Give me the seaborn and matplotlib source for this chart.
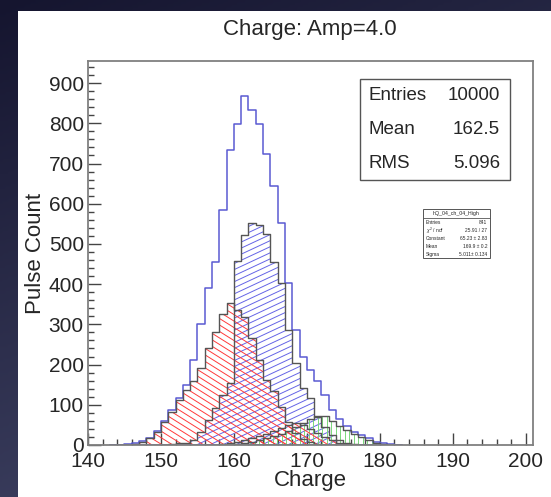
import numpy as np
import pandas as pd
import matplotlib
matplotlib.use("Agg")
import matplotlib.pyplot as plt
from matplotlib.collections import LineCollection
from matplotlib.patches import Rectangle
from matplotlib.transforms import Affine2D
import seaborn as sns

# Histogram contents, one bin per unit of charge; *_start is the lower edge of the first bin
total_start = 143
total_counts = [1, 1, 3, 5, 9, 18, 34, 60, 86, 116, 150, 212, 300, 390, 455, 585, 733, 798,
                867, 832, 798, 723, 645, 552, 402, 286, 218, 187, 158, 124, 87, 64, 47, 33,
                25, 17, 8, 4, 2, 1]

red_start = 144
red_counts = [1, 1, 3, 8, 17, 33, 58, 83, 112, 137, 160, 192, 240, 282, 325, 352, 335, 319,
              265, 211, 162, 135, 95, 58, 29, 15, 7, 3, 1]

blue_start = 150
blue_counts = [1, 2, 4, 6, 12, 33, 62, 92, 124, 154, 458, 522, 552, 547, 525, 456,
               402, 286, 203, 141, 116, 70, 45, 25, 12, 6, 3, 1]

green_start = 160
green_counts = [3, 5, 8, 12, 17, 22, 28, 36, 45, 55, 65, 71, 72, 60, 48, 37, 27, 19, 12, 6, 3, 1]

fit_start = 158
fit_counts = [2, 4, 7, 12, 17, 22, 28, 35, 42, 50, 54, 50, 40, 30, 20, 12, 6, 3, 1]

x_ticks = [140, 150, 160, 170, 180, 190, 200]
y_ticks = [0, 100, 200, 300, 400, 500, 600, 700, 800, 900]

stats_names = ["Entries", "Mean", "RMS"]
stats_values = ["10000", "162.5", "5.096"]

fit_title = "hQ_04_ch_04_High"
fit_names = ["Entries", r"$\chi^2$ / ndf", "Constant", "Mean", "Sigma"]
fit_values = ["841", "25.91 / 27", "65.23 \u00b1 2.83", "169.9 \u00b1 0.2", "5.011\u00b1 0.134"]

sns.set_style("white")
plt.rcParams['font.family'] = ['Liberation Sans', 'DejaVu Sans']
plt.rcParams['mathtext.fontset'] = 'custom'
plt.rcParams['mathtext.rm'] = 'Liberation Sans'
plt.rcParams['mathtext.it'] = 'Liberation Sans:italic'

fig = plt.figure(figsize=(5.51, 4.97), dpi=100)

# slide background: dark gradient with white panel
bg = fig.add_axes([0, 0, 1, 1], zorder=-10)
gy, gx = np.mgrid[0:1:200j, 0:1:200j]
grad = 0.35 * gy + 0.15 * gx
bg.imshow(grad, cmap=matplotlib.colors.LinearSegmentedColormap.from_list(
    "slide", ["#15152f", "#464a6c"]), aspect='auto', extent=[0, 1, 0, 1],
    vmin=0, vmax=0.5, origin='upper')
bg.add_patch(Rectangle((18 / 551, 0), 1, 1 - 11 / 497, transform=bg.transAxes,
                       facecolor='white', edgecolor='none'))
bg.set_axis_off()

ax_left, ax_bottom = 88 / 551, 52 / 497
ax_w, ax_h = 445 / 551, 384 / 497
ax = fig.add_axes([ax_left, ax_bottom, ax_w, ax_h])
ax.set_facecolor('white')
W, H = ax_w * 551, ax_h * 497


def draw_hist(start, counts, edge, lw):
    edges = [float(e) for e in range(start, start + len(counts) + 1)]
    df = pd.DataFrame({'charge': [e + 0.5 for e in edges[:-1]],
                       'count': [float(c) for c in counts]})
    n_before = len(ax.collections)
    sns.histplot(data=df, x='charge', weights='count', bins=edges, element='step',
                 fill=True, color=edge, facecolor='none', edgecolor=edge,
                 linewidth=lw, ax=ax, zorder=3)
    return ax.collections[n_before]


def add_hatch(coll, color, angle, spacing):
    a = np.deg2rad(angle)
    d = np.array([np.cos(a), np.sin(a)])
    n = np.array([-np.sin(a), np.cos(a)])
    L = np.hypot(W, H)
    c = np.array([W / 2, H / 2])
    segs = [[c + t * n - L * d, c + t * n + L * d] for t in np.arange(-L, L, spacing)]
    lc = LineCollection(segs, colors=color, linewidths=0.7, zorder=2,
                        transform=Affine2D().scale(1 / W, 1 / H) + ax.transAxes)
    ax.add_collection(lc, autolim=False)
    lc.set_clip_path(coll.get_paths()[0], ax.transData)


outline = '#555555'
draw_hist(total_start, total_counts, '#5a5ad2', 1.1)
c_blue = draw_hist(blue_start, blue_counts, outline, 1.0)
add_hatch(c_blue, '#6464e6', 25, 5.5)
c_red = draw_hist(red_start, red_counts, outline, 1.0)
add_hatch(c_red, '#ff3a3a', -32, 5.5)
c_green = draw_hist(green_start, green_counts, outline, 1.0)
add_hatch(c_green, '#7ad87a', 90, 4.5)
c_fit = draw_hist(fit_start, fit_counts, outline, 1.0)
add_hatch(c_fit, '#ff3a3a', -32, 5.5)

ax.set_xlim(140, 201)
ax.set_ylim(0, 955)
ax.set_xticks(x_ticks)
ax.set_yticks(y_ticks)
ax.set_xticks(np.arange(140, 201, 2), minor=True)
ax.set_yticks(np.arange(0, 955, 20), minor=True)
ax.tick_params(which='both', direction='in', bottom=True, left=True, top=False, right=False,
               color='#444444', width=1, labelsize=15)
ax.tick_params(which='major', length=9)
ax.tick_params(which='minor', length=4.5)
ax.tick_params(axis='y', pad=3)
ax.tick_params(axis='x', pad=5)
for sp in ax.spines.values():
    sp.set_color('#808080')
    sp.set_linewidth(1.3)
    sp.set_zorder(5)

ax.set_xlabel('Charge', fontsize=16, va='center')
ax.xaxis.set_label_coords(0.5, -0.092)
ax.set_ylabel('Pulse Count', fontsize=16, va='center')
ax.yaxis.set_label_coords(-0.118, 0.5)

fig.text(310 / 551, 1 - 30 / 497, 'Charge: Amp=4.0', ha='center', va='center', fontsize=16)

# main stats box
bx0, bx1 = (360 - 88) / W, (510 - 88) / W
by0, by1 = (445 - 180) / H, (445 - 79) / H
ax.add_patch(Rectangle((bx0, by0), bx1 - bx0, by1 - by0, transform=ax.transAxes,
                       facecolor='white', edgecolor='#555555', lw=1.0, zorder=6))
for i, (name, val) in enumerate(zip(stats_names, stats_values)):
    yy = (445 - (96 + i * 33.5)) / H
    ax.text((369 - 88) / W, yy, name, transform=ax.transAxes, ha='left', va='center',
            fontsize=13.5, zorder=7)
    ax.text((500 - 88) / W, yy, val, transform=ax.transAxes, ha='right', va='center',
            fontsize=13.5, zorder=7)

# small fit box
fx0, fx1 = (423 - 88) / W, (490 - 88) / W
fy0, fy1 = (445 - 258) / H, (445 - 209) / H
ax.add_patch(Rectangle((fx0, fy0), fx1 - fx0, fy1 - fy0, transform=ax.transAxes,
                       facecolor='white', edgecolor='#555555', lw=0.7, zorder=6))
sep = (445 - 218) / H
ax.plot([fx0, fx1], [sep, sep], transform=ax.transAxes, color='#555555', lw=0.6, zorder=7)
ax.text((fx0 + fx1) / 2, (445 - 213.5) / H, fit_title, transform=ax.transAxes,
        ha='center', va='center', fontsize=3.8, zorder=7)
for i, (name, val) in enumerate(zip(fit_names, fit_values)):
    yy = (445 - (222.5 + i * 8)) / H
    ax.text(fx0 + 0.006, yy, name, transform=ax.transAxes, ha='left', va='center',
            fontsize=3.5, zorder=7)
    ax.text(fx1 - 0.006, yy, val, transform=ax.transAxes, ha='right', va='center',
            fontsize=3.5, zorder=7)

fig.savefig('out.png', dpi=100)
plt.close(fig)
